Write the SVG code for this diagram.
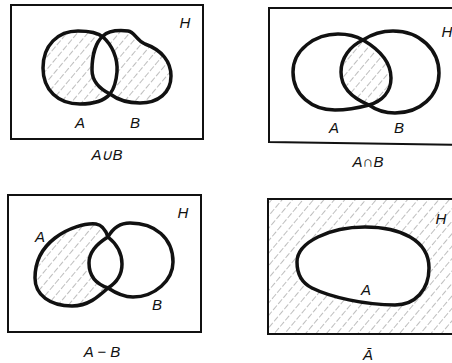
<svg xmlns="http://www.w3.org/2000/svg" width="452" height="363" viewBox="0 0 452 363">
<style>
.frame{fill:none;stroke:#111;stroke-width:2}
.set{fill:none;stroke:#111;stroke-width:3.5;stroke-linejoin:round}
.lbl{font-family:"Liberation Sans",Arial,sans-serif;font-style:italic;font-size:15px;fill:#111;text-anchor:middle}
.hatch{fill:url(#hatch)}
</style>
<defs>
<pattern id="hatch" patternUnits="userSpaceOnUse" width="8" height="8" patternTransform="rotate(40)">
<line x1="0" y1="0" x2="0" y2="8" stroke="#6e6e6e" stroke-width="0.9" stroke-dasharray="6 2"/>
</pattern>
<path id="a1" d="M103,37 C112,45 118,58 117,72 C116,84 113,90 110,94 C104,101 92,104 80,104 C58,104 43,90 43,68 C43,45 58,31 78,31 C88,31 97,32 103,37 Z"/>
<path id="b1" d="M92,70 C92,55 96,42 103,36 C108,31 118,30 128,31 C135,32 136,40 145,44 C162,50 171,62 171,76 C171,93 158,103 140,103 C128,103 118,100 110,94 C98,88 92,80 92,70 Z"/>
<path id="a2" d="M293,72 C293,50 315,34 338,34 C348,34 356,36 363,40 C380,50 391,62 391,78 C391,92 382,101 369,105 C358,108 348,110 335,110 C312,110 293,95 293,72 Z"/>
<path id="b2" d="M341,72 C341,58 350,46 363,40 C372,34 382,31 393,31 C420,31 439,50 439,73 C439,96 420,113 395,113 C385,113 376,110 369,105 C352,98 341,87 341,72 Z"/>
<path id="a3" d="M108,237 C118,245 122,253 122,264 C122,275 116,283 108,288 C98,297 88,306 72,306 C50,306 35,295 35,278 C35,262 42,248 55,238 C68,228 85,223 96,224 C103,225 106,231 108,237 Z"/>
<path id="b3" d="M108,237 C113,228 120,223 130,223 C155,223 173,238 173,262 C173,280 155,297 133,297 C122,297 114,292 108,288 C96,284 89,276 89,263 C89,252 98,243 108,237 Z"/>
<path id="a4" d="M297,262 C297,242 330,227 365,227 C400,227 429,240 429,268 C429,290 415,305 395,305 C365,305 330,297 312,288 C302,283 297,274 297,262 Z"/>
<clipPath id="clipA2"><use href="#a2"/></clipPath>
</defs>
<rect width="452" height="363" fill="#fff"/>

<g id="union">
<rect class="frame" x="11" y="5" width="192" height="134"/>
<path class="hatch" fill-rule="evenodd" d="M103,37 C112,45 118,58 117,72 C116,84 113,90 110,94 C104,101 92,104 80,104 C58,104 43,90 43,68 C43,45 58,31 78,31 C88,31 97,32 103,37 Z M92,70 C92,55 96,42 103,36 C108,31 118,30 128,31 C135,32 136,40 145,44 C162,50 171,62 171,76 C171,93 158,103 140,103 C128,103 118,100 110,94 C98,88 92,80 92,70 Z"/>
<use href="#a1" class="set"/>
<use href="#b1" class="set"/>
<text class="lbl" x="185" y="28">H</text>
<text class="lbl" x="80" y="128">A</text>
<text class="lbl" x="135" y="128">B</text>
<text class="lbl" x="107" y="160">A∪B</text>
</g>

<g id="intersection">
<path class="frame" d="M460,8 L269,8 L269,142 L460,145"/>
<use href="#b2" class="hatch" clip-path="url(#clipA2)"/>
<use href="#a2" class="set"/>
<use href="#b2" class="set"/>
<text class="lbl" x="447" y="37">H</text>
<text class="lbl" x="334" y="133">A</text>
<text class="lbl" x="399" y="133">B</text>
<text class="lbl" x="368" y="167">A∩B</text>
</g>

<g id="difference">
<rect class="frame" x="8" y="195" width="193" height="137"/>
<use href="#a3" class="hatch"/>
<use href="#b3" fill="#fff"/>
<use href="#a3" class="set"/>
<use href="#b3" class="set"/>
<text class="lbl" x="183" y="218">H</text>
<text class="lbl" x="40" y="242">A</text>
<text class="lbl" x="157" y="310">B</text>
<text class="lbl" x="102" y="357">A − B</text>
</g>

<g id="complement">
<rect class="hatch" x="268" y="199" width="190" height="135"/>
<path class="frame" d="M460,199 L268,199 L268,334 L460,334"/>
<use href="#a4" fill="#fff"/>
<use href="#a4" class="set"/>
<text class="lbl" x="441" y="224">H</text>
<text class="lbl" x="366" y="295">A</text>
<text class="lbl" x="368" y="360">Ā</text>
</g>
</svg>
